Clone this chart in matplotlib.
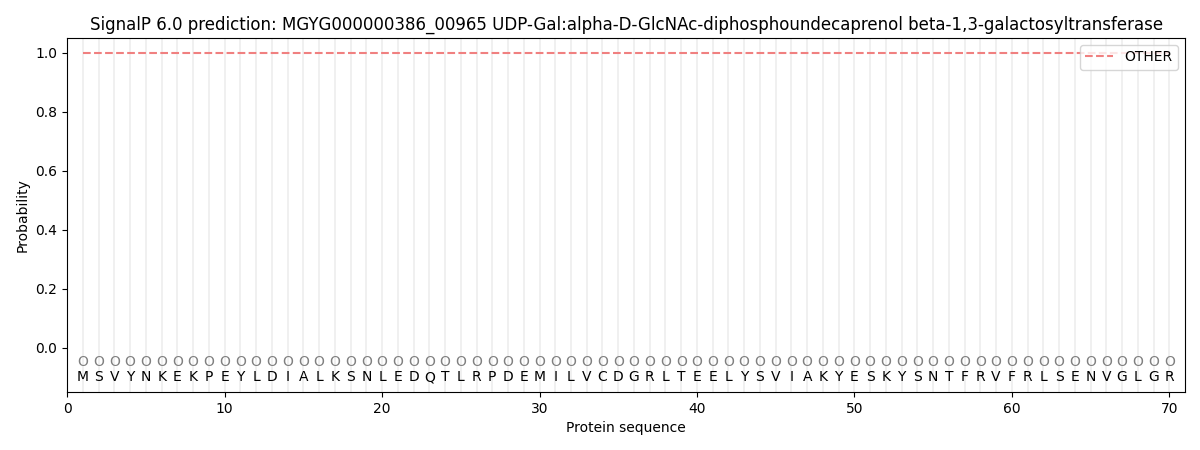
import matplotlib
matplotlib.use("Agg")
import matplotlib.pyplot as plt
import numpy as np

# sequence and per-residue prediction
sequence = list("MSVYNKEKPEYLDIALKSNLEDQTLRPDEMILVCDGRLTEELYSVIAKYESKYSNTFRVFRLSENVGLGR")
positions = np.arange(1, len(sequence) + 1)
other_prob = [1.0] * len(sequence)
labels = ["O"] * len(sequence)

fig, ax = plt.subplots(figsize=(12, 4.5), dpi=100)
fig.subplots_adjust(left=0.056, right=0.9875, top=0.916, bottom=0.129)

# light vertical grid at each residue
for p in positions:
    ax.axvline(p, color="#eeeeee", linewidth=1.2, zorder=0)

ax.plot(positions, other_prob, color="#f08080", linestyle="--", linewidth=1.5, label="OTHER")

for p, lab, aa in zip(positions, labels, sequence):
    ax.text(p, -0.05, lab, ha="center", va="center", color="gray", fontsize=10)
    ax.text(p, -0.1, aa, ha="center", va="center", color="black", fontsize=10)

ax.set_xlim(0, 71)
ax.set_ylim(-0.15, 1.05)
ax.set_yticks([0.0, 0.2, 0.4, 0.6, 0.8, 1.0])
ax.set_xlabel("Protein sequence")
ax.set_ylabel("Probability")
ax.set_title("SignalP 6.0 prediction: MGYG000000386_00965 UDP-Gal:alpha-D-GlcNAc-diphosphoundecaprenol beta-1,3-galactosyltransferase")
ax.legend(loc="upper right")

plt.savefig("out.png", dpi=100)
